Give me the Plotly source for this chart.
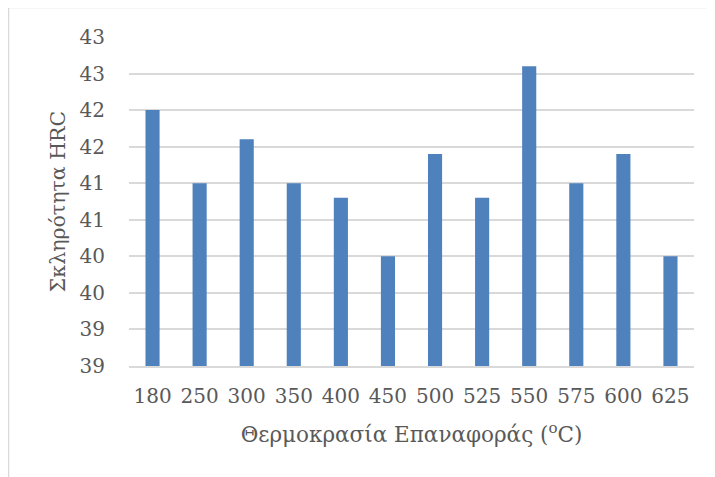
import plotly.graph_objects as go

categories = ["180", "250", "300", "350", "400", "450", "500", "525", "550", "575", "600", "625"]
hardness = [42.0, 41.0, 41.6, 41.0, 40.8, 40.0, 41.4, 40.8, 42.6, 41.0, 41.4, 40.0]
y_tickvals = [38.5, 39.0, 39.5, 40.0, 40.5, 41.0, 41.5, 42.0, 42.5, 43.0]
y_ticktext = ["39", "39", "40", "40", "41", "41", "42", "42", "43", "43"]

# page has an 8px body margin; figure is placed at (8, 8)
W, H = 707, 469
L, R, T, B = 121, 21, 29, 111
pw, ph = W - L - R, H - T - B

def px_x(p):
    return (p - L) / pw

def px_y(p):
    return (H - B - p) / ph

font_family = "DejaVu Serif, Liberation Serif, serif"
txt_color = "#595959"
fs = 20

fig = go.Figure(go.Bar(
    x=categories, y=hardness,
    marker=dict(color="#4f81bd", line=dict(width=0)),
    width=0.3,
))

fig.update_layout(
    width=W, height=H,
    margin=dict(l=L, r=R, t=T, b=B, autoexpand=False),
    paper_bgcolor="white", plot_bgcolor="white",
    showlegend=False,
    font=dict(family=font_family, color=txt_color, size=fs),
    xaxis=dict(
        type="category", automargin=False,
        showgrid=False,
        showline=True, linecolor="#d9d9d9", linewidth=1.5,
        ticks="", ticklabelstandoff=11,
        tickfont=dict(size=fs, color=txt_color),
        title=dict(text="Θερμοκρασία Επαναφοράς (<sup>o</sup>C)", standoff=20,
                   font=dict(size=21.5, color=txt_color)),
    ),
    yaxis=dict(
        range=[38.5, 43.0], automargin=False,
        tickvals=y_tickvals, ticktext=y_ticktext,
        showgrid=True, gridcolor="#d9d9d9", gridwidth=1.5,
        zeroline=False, showline=False,
        ticks="", ticklabelstandoff=23,
        tickfont=dict(size=fs, color=txt_color),
        title=dict(text="Σκληρότητα HRC", standoff=8,
                   font=dict(size=20.5, color=txt_color)),
    ),
    shapes=[dict(
        type="rect", xref="paper", yref="paper",
        x0=px_x(0.5), x1=px_x(760), y0=px_y(-0.5), y1=px_y(520),
        line=dict(color="#d9d9d9", width=1.5), fillcolor="rgba(0,0,0,0)",
        layer="below",
    )],
)

fig.write_html("out.html")
